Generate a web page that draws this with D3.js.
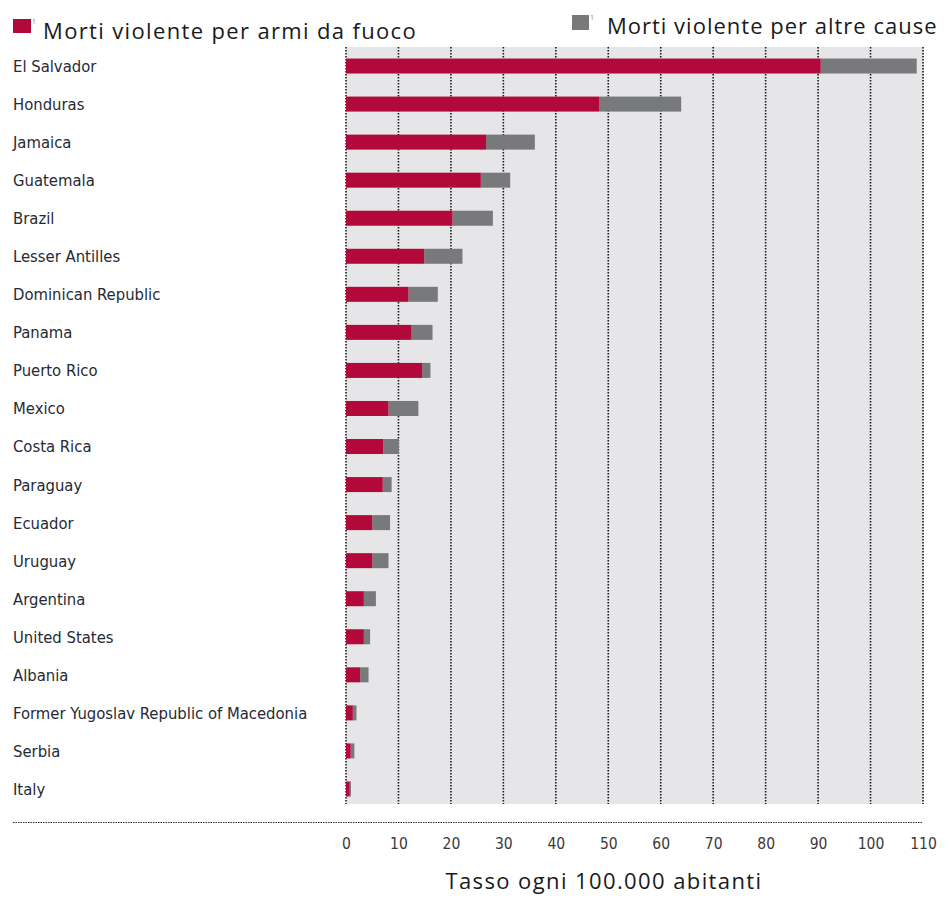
<!DOCTYPE html>
<html>
<head>
<meta charset="utf-8">
<script src="https://cdn.jsdelivr.net/npm/d3@7"></script>
<style>
  html, body { margin: 0; padding: 0; background: #fff; }
  svg { display: block; }
</style>
</head>
<body>
<svg id="chart" width="949" height="898"></svg>
<script>
const countries = ["El Salvador","Honduras","Jamaica","Guatemala","Brazil","Lesser Antilles",
  "Dominican Republic","Panama","Puerto Rico","Mexico","Costa Rica","Paraguay","Ecuador",
  "Uruguay","Argentina","United States","Albania","Former Yugoslav Republic of Macedonia",
  "Serbia","Italy"];
const firearms = [90.5,48.3,26.7,25.7,20.3,14.9,11.9,12.5,14.5,8.1,7.1,7.0,5.0,5.0,3.4,3.4,2.7,1.3,0.9,0.7];
const otherCauses = [18.3,15.6,9.3,5.6,7.7,7.3,5.6,4.0,1.6,5.7,3.0,1.7,3.4,3.1,2.3,1.2,1.6,0.7,0.7,0.25];
const tickValues = [0,10,20,30,40,50,60,70,80,90,100,110];
const legendLabels = ["Morti violente per armi da fuoco","Morti violente per altre cause"];
const axisTitle = "Tasso ogni 100.000 abitanti";

const colRed = "#b3083a", colGrey = "#78797b", colPanel = "#e6e6e8";
const svg = d3.select("#chart");
const x = d3.scaleLinear().domain([0,110]).range([346,923]);
const y = d3.scalePoint().domain(countries).range([47,808]).padding(0.5);
const barH = 15;
const condensed = "'DejaVu Sans Condensed','DejaVu Sans',sans-serif";
const sans = "'Open Sans','Noto Sans',sans-serif";

// panel
svg.append("rect").attr("x", x(0)).attr("y", 47).attr("width", x(110)-x(0)+1).attr("height", 804-47).attr("fill", colPanel);

// grid lines
svg.append("g").selectAll("line").data(tickValues).join("line")
  .attr("x1", d => x(d)).attr("x2", d => x(d)).attr("y1", 47).attr("y2", 804)
  .attr("stroke", "#1a1a1a").attr("stroke-width", 1.6).attr("stroke-dasharray", "1.6,1.4");

// bars
const rows = countries.map((c,i) => ({c, f: firearms[i], o: otherCauses[i]}));
const g = svg.append("g");
g.selectAll("rect.o").data(rows).join("rect").attr("class","o")
  .attr("x", d => x(d.f)).attr("y", d => y(d.c)-barH/2)
  .attr("width", d => x(d.f+d.o)-x(d.f)).attr("height", barH).attr("fill", colGrey);
g.selectAll("rect.f").data(rows).join("rect").attr("class","f")
  .attr("x", x(0)).attr("y", d => y(d.c)-barH/2)
  .attr("width", d => x(d.f)-x(0)).attr("height", barH).attr("fill", colRed);

// category labels
svg.append("g").selectAll("text").data(countries).join("text")
  .attr("x", 13).attr("y", d => y(d)).attr("dy", "0.36em")
  .attr("font-family", condensed).attr("font-stretch","condensed").attr("font-size", 16.5)
  .attr("fill", "#262a36").text(d => d);

// bottom dotted rule
svg.append("line").attr("x1", 13).attr("x2", 923).attr("y1", 822.5).attr("y2", 822.5)
  .attr("stroke", "#333").attr("stroke-width", 1).attr("stroke-dasharray", "1.5,1");

// x axis
const axis = d3.axisBottom(x).tickValues(tickValues).tickSize(0).tickPadding(0).tickFormat(d3.format("d"));
const ax = svg.append("g").attr("transform", "translate(0,838)").call(axis);
ax.select(".domain").remove();
ax.selectAll("text").attr("font-family", condensed).attr("font-stretch","condensed")
  .attr("font-size", 15.5).attr("fill", "#3a3a3a");

// axis title
svg.append("text").attr("x", 604).attr("y", 889).attr("text-anchor","middle")
  .attr("font-family", sans).attr("font-size", 22).attr("letter-spacing", 1.4)
  .attr("fill","#1a1a1a").text(axisTitle);

// legend
const legend = [
  {label: legendLabels[0], color: colRed, sx: 13, sy: 19, sw: 18, sh: 14, tx: 43, ty: 39, ls: 1.35},
  {label: legendLabels[1], color: colGrey, sx: 572, sy: 15, sw: 17, sh: 15, tx: 607, ty: 34, ls: 1.0}
];
const lg = svg.append("g").selectAll("g").data(legend).join("g");
lg.append("rect").attr("x", d=>d.sx).attr("y", d=>d.sy).attr("width", d=>d.sw).attr("height", d=>d.sh).attr("fill", d=>d.color);
lg.append("text").attr("x", d=>d.sx+d.sw+1).attr("y", d=>d.sy+5).attr("font-size", 7)
  .attr("font-family", sans).attr("fill","#888").text("1");
lg.append("text").attr("x", d=>d.tx).attr("y", d=>d.ty)
  .attr("font-family", sans).attr("font-size", 22).attr("letter-spacing", d=>d.ls)
  .attr("fill","#1a1a1a").text(d=>d.label);
</script>
</body>
</html>
